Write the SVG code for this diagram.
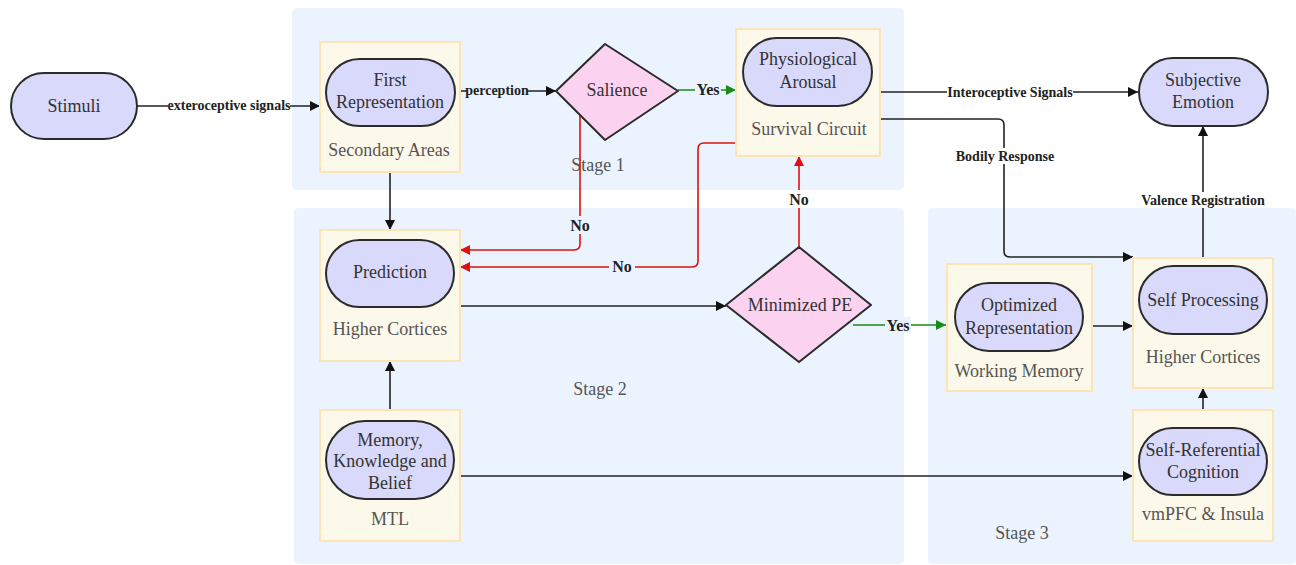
<svg xmlns="http://www.w3.org/2000/svg" width="1296" height="565" viewBox="0 0 1296 565">
<style>
.stage{fill:#ebf4fe}
.area{fill:#fdf9ea;stroke:#fce4b6;stroke-width:2}
.pill{fill:#d9d9fb;stroke:#2b2b2b;stroke-width:2}
.dia{fill:#fbd3f1;stroke:#2b2b2b;stroke-width:2}
text{font-family:"Liberation Serif","Times New Roman","DejaVu Serif",serif}
.t{font-size:18px;fill:#333;text-anchor:middle}
.lab{font-size:18px;fill:#555;text-anchor:middle}
.el{font-size:14px;font-weight:bold;fill:#222;text-anchor:middle}
.elr{font-size:16px;font-weight:bold;fill:#222;text-anchor:middle}
.bk{fill:none;stroke:#222;stroke-width:1.6}
.rd{fill:none;stroke:#e01010;stroke-width:1.6}
.gr{fill:none;stroke:#1a8a1a;stroke-width:1.6}
</style>
<defs>
<marker id="ab" viewBox="0 0 10 10" refX="10" refY="5" markerWidth="10" markerHeight="10" markerUnits="userSpaceOnUse" orient="auto"><path d="M0,0L10,5L0,10z" fill="#111"/></marker>
<marker id="ar" viewBox="0 0 10 10" refX="10" refY="5" markerWidth="10" markerHeight="10" markerUnits="userSpaceOnUse" orient="auto"><path d="M0,0L10,5L0,10z" fill="#e01010"/></marker>
<marker id="ag" viewBox="0 0 10 10" refX="10" refY="5" markerWidth="10" markerHeight="10" markerUnits="userSpaceOnUse" orient="auto"><path d="M0,0L10,5L0,10z" fill="#1a8a1a"/></marker>
</defs>
<rect width="1296" height="565" fill="#fff"/>
<g id="stages">
<rect class="stage" x="292" y="8" width="612" height="182" rx="5"/>
<rect class="stage" x="294" y="208" width="610" height="356" rx="5"/>
<rect class="stage" x="928" y="208" width="368" height="356" rx="5"/>
<text class="lab" x="598" y="171">Stage 1</text>
<text class="lab" x="600" y="395">Stage 2</text>
<text class="lab" x="1022" y="539">Stage 3</text>
</g>
<g id="connectors">
<path class="bk" d="M137,106H320" marker-end="url(#ab)"/>
<rect x="168" y="97" width="122" height="17" fill="#fff"/>
<text class="el" x="229" y="110">exteroceptive signals</text>
<path class="bk" d="M455,91H556" marker-end="url(#ab)"/>
<rect x="467" y="83" width="60" height="15" fill="#ebf4fe"/>
<text class="el" x="497" y="95">perception</text>
<path class="gr" d="M678,90H736" marker-end="url(#ag)"/>
<rect x="695" y="82" width="26" height="16" fill="#ebf4fe"/>
<text class="elr" x="708" y="95">Yes</text>
<path class="bk" d="M880,92H1138" marker-end="url(#ab)"/>
<rect x="947" y="84" width="126" height="16" fill="#fff"/>
<text class="el" x="1010" y="97">Interoceptive Signals</text>
<path class="bk" d="M880,119H998Q1004,119 1004,125V251Q1004,257 1010,257H1133" marker-end="url(#ab)"/>
<rect x="953" y="148" width="104" height="16" fill="#fff"/>
<text class="el" x="1005" y="161">Bodily Response</text>
<path class="bk" d="M1203,258V126" marker-end="url(#ab)"/>
<rect x="1140" y="192" width="126" height="16" fill="#fff"/>
<text class="el" x="1203" y="205">Valence Registration</text>
<path class="rd" d="M580,114V244Q580,250 574,250H460" marker-end="url(#ar)"/>
<rect x="568" y="216" width="24" height="18" fill="#ebf4fe"/>
<text class="elr" x="580" y="231">No</text>
<path class="rd" d="M736,143H704Q698,143 698,149V261Q698,267 692,267H460" marker-end="url(#ar)"/>
<rect x="609" y="258" width="26" height="17" fill="#ebf4fe"/>
<text class="elr" x="622" y="272">No</text>
<path class="rd" d="M799,247V156" marker-end="url(#ar)"/>
<rect x="787" y="190" width="24" height="18" fill="#fff"/>
<text class="elr" x="799" y="205">No</text>
<path class="bk" d="M390,172V230" marker-end="url(#ab)"/>
<path class="bk" d="M460,306H726" marker-end="url(#ab)"/>
<path class="gr" d="M853,325H946" marker-end="url(#ag)"/>
<rect x="885" y="317" width="26" height="16" fill="#ebf4fe"/>
<text class="elr" x="898" y="331">Yes</text>
<path class="bk" d="M1092,326H1133" marker-end="url(#ab)"/>
<path class="bk" d="M1203,410V388" marker-end="url(#ab)"/>
<path class="bk" d="M390,410V361" marker-end="url(#ab)"/>
<path class="bk" d="M460,476H1133" marker-end="url(#ab)"/>
</g>
<g id="stimuli">
<rect class="pill" x="11" y="73" width="126" height="66" rx="33"/>
<text class="t" x="74" y="112">Stimuli</text>
</g>
<g id="secondary-areas">
<rect class="area" x="320" y="42" width="140" height="130"/>
<rect class="pill" x="326" y="59" width="129" height="67" rx="33.5"/>
<text class="t" x="390" y="86">First</text>
<text class="t" x="390" y="108">Representation</text>
<text class="lab" x="389" y="156">Secondary Areas</text>
</g>
<g id="salience">
<path class="dia" d="M605,44L678,91L605,140L556,91Z" stroke-linejoin="round"/>
<text class="t" x="617" y="96">Salience</text>
</g>
<g id="survival-circuit">
<rect class="area" x="736" y="29" width="144" height="127"/>
<rect class="pill" x="743" y="38" width="129" height="68" rx="34"/>
<text class="t" x="808" y="65">Physiological</text>
<text class="t" x="808" y="88">Arousal</text>
<text class="lab" x="809" y="135">Survival Circuit</text>
</g>
<g id="subjective-emotion">
<rect class="pill" x="1139" y="58" width="129" height="68" rx="34"/>
<text class="t" x="1203" y="86">Subjective</text>
<text class="t" x="1203" y="108">Emotion</text>
</g>
<g id="higher-cortices-2">
<rect class="area" x="320" y="230" width="140" height="131"/>
<rect class="pill" x="326" y="240" width="128" height="67" rx="33.5"/>
<text class="t" x="390" y="278">Prediction</text>
<text class="lab" x="390" y="335">Higher Cortices</text>
</g>
<g id="minimized-pe">
<path class="dia" d="M799,247L871,305L799,362L726,305Z" stroke-linejoin="round"/>
<text class="t" x="800" y="311">Minimized PE</text>
</g>
<g id="working-memory">
<rect class="area" x="947" y="264" width="145" height="127"/>
<rect class="pill" x="955" y="283" width="128" height="68" rx="34"/>
<text class="t" x="1019" y="311">Optimized</text>
<text class="t" x="1019" y="334">Representation</text>
<text class="lab" x="1019" y="377">Working Memory</text>
</g>
<g id="higher-cortices-3">
<rect class="area" x="1133" y="258" width="140" height="130"/>
<rect class="pill" x="1139" y="266" width="128" height="68" rx="34"/>
<text class="t" x="1203" y="306">Self Processing</text>
<text class="lab" x="1203" y="363">Higher Cortices</text>
</g>
<g id="vmpfc-insula">
<rect class="area" x="1133" y="410" width="140" height="131"/>
<rect class="pill" x="1139" y="428" width="128" height="67" rx="33.5"/>
<text class="t" x="1203" y="456">Self-Referential</text>
<text class="t" x="1203" y="478">Cognition</text>
<text class="lab" x="1203" y="520">vmPFC &amp; Insula</text>
</g>
<g id="mtl">
<rect class="area" x="320" y="410" width="140" height="131"/>
<rect class="pill" x="326" y="421" width="128" height="78" rx="39"/>
<text class="t" x="390" y="446">Memory,</text>
<text class="t" x="390" y="467">Knowledge and</text>
<text class="t" x="390" y="489">Belief</text>
<text class="lab" x="390" y="525">MTL</text>
</g>
</svg>
